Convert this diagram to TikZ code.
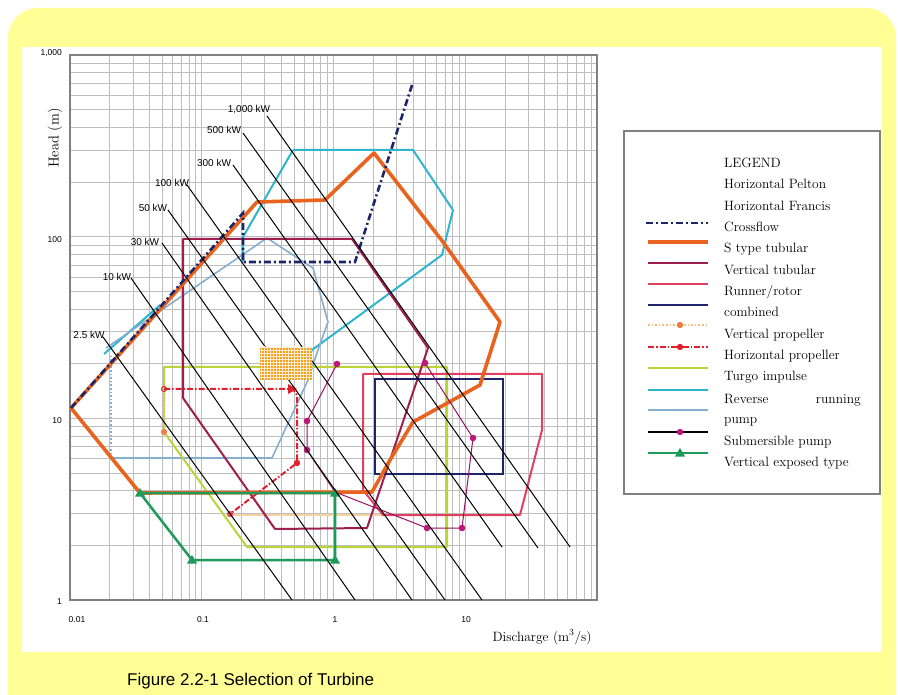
\documentclass[tikz,border=0pt]{standalone}
\usepackage{fontspec}
\newfontfamily\arialf{Liberation Sans}
\usetikzlibrary{patterns}
\definecolor{bgyellow}{RGB}{255,255,150}
\definecolor{gridc}{RGB}{190,190,190}
\definecolor{navyc}{RGB}{30,36,105}
\definecolor{orangec}{RGB}{232,100,30}
\definecolor{crimsonc}{RGB}{158,30,78}
\definecolor{pinkredc}{RGB}{224,64,94}
\definecolor{turgoc}{RGB}{188,212,58}
\definecolor{tealc}{RGB}{46,180,204}
\definecolor{greyblue}{RGB}{134,174,207}
\definecolor{magentac}{RGB}{190,22,122}
\definecolor{greenc}{RGB}{30,154,90}
\definecolor{redc}{RGB}{224,32,46}
\definecolor{vpropc}{RGB}{240,190,120}
\definecolor{boxorange}{RGB}{247,160,30}
\tikzset{
  gridline/.style={gridc, line width=0.6pt},
  kwline/.style={black, line width=1pt},
  kwlabel/.style={inner sep=0pt, font=\arialf\fontsize{10}{11}\selectfont},
  ticklabel/.style={inner sep=0pt, font=\arialf\fontsize{8.5}{10}\selectfont},
  legtext/.style={anchor=base west, inner sep=0pt, font=\fontsize{13.5}{15}\selectfont},
  crossflow/.style={navyc, line width=2.6pt, dash pattern=on 7pt off 3pt on 2pt off 3pt},
  stype/.style={orangec, line width=3.6pt, line join=round},
  vtub/.style={crimsonc, line width=2pt, line join=round},
  runner/.style={pinkredc, line width=2pt, line join=round},
  combined/.style={navyc, line width=2pt},
  vprop/.style={vpropc, line width=1.6pt, dotted},
  hprop/.style={redc, line width=2pt, dash pattern=on 6pt off 2pt on 1.5pt off 2pt},
  turgo/.style={turgoc, line width=2pt, line join=round},
  reverse/.style={tealc, line width=2pt, line join=round},
  pumpline/.style={greyblue, line width=1.6pt, line join=round},
  subm/.style={magentac!80!black, line width=1pt},
  vexp/.style={greenc, line width=2.5pt, line join=round}
}
\newcommand{\mdot}[2]{\fill[#1] (#2) circle (3.2pt);}
\newcommand{\mtri}[2]{\fill[#1] ($(#2)+(0,-5)$) -- ($(#2)+(5,3.5)$) -- ($(#2)+(-5,3.5)$) -- cycle;}
\usetikzlibrary{calc}
\begin{document}
\begin{tikzpicture}[x=1pt,y=-1pt]
\useasboundingbox (0,0) rectangle (898,695);
% background frame
\fill[white] (0,0) rectangle (898,695);
\fill[bgyellow] (8,8) [rounded corners=30pt] rectangle (896,740);
\fill[white] (22,47) rectangle (882,652);
% grid
\foreach \d in {0,...,3}{
  \foreach \n in {1,...,9}{
    \pgfmathsetmacro\xx{70+131.75*(\d+log10(\n))}
    \draw[gridline] (\xx,55) -- (\xx,600);
  }
}
\foreach \d in {0,...,2}{
  \foreach \n in {1,...,9}{
    \pgfmathsetmacro\yy{600-181.67*(\d+log10(\n))}
    \draw[gridline] (70,\yy) -- (597,\yy);
  }
}
\draw[gray, line width=1.5pt] (70,55) rectangle (597,600);
% ---- regions ----
% reverse running pump (teal)
\draw[reverse] (293,150) -- (413,150) -- (453,210) -- (442,255) -- (312,350) -- (300,376);
\draw[reverse] (293,150) -- (243,237) -- (243,262);
\draw[reverse] (104,354) -- (160,305);
% pump (grey blue)
\draw[pumpline] (106,348) -- (267,238) -- (313,268) -- (328,322) -- (318,350) -- (308,380) -- (272,458) -- (111,458);
\draw[pumpline, dotted, line width=2pt] (111,458) -- (111,356);
% turgo impulse
\draw[turgo] (164,367) -- (447,367) -- (447,547) -- (247,547) -- (164,432) -- cycle;
% vertical propeller
\draw[vprop] (164,388) -- (164,432);
\draw[vpropc!70, line width=1.5pt] (227,515) -- (383,515);
\mdot{orangec!80}{164,432}
% runner / rotor
\draw[runner] (363,374) -- (542,374) -- (542,430) -- (520,515) -- (383,515) -- (363,490) -- cycle;
% vertical tubular
\draw[vtub] (183,239) -- (352,239) -- (428,348) -- (367,528) -- (275,529) -- (183,398) -- cycle;
% combined
\draw[combined] (375,379) rectangle (503,474);
% S type tubular
\draw[stype] (71,408) -- (257,202) -- (325,200) -- (374,153) -- (443,242) -- (500,322) -- (480,385) -- (413,422) -- (390,460) -- (372,492) -- (140,493) -- cycle;
% crossflow
\draw[crossflow] (71,408) -- (243,213) -- (243,262) -- (355,262) -- (413,82);
% horizontal propeller
\draw[hprop] (164,389) -- (293,389) -- (297,395) -- (297,463) -- (230,514);
\draw[redc, line width=1pt] (164,389) circle (2.5pt);
\fill[redc] (297,389) -- (288,384) -- (288,394) -- cycle;
\mdot{redc}{297,463}
\mdot{redc!80}{230,514}
% submersible pump
\draw[subm] (337,364) -- (307,421) -- (307,450) -- (335,492) -- (427,528) -- (462,528) -- (473,438) -- (425,363);
\foreach \p in {(337,364),(307,421),(307,450),(427,528),(462,528),(473,438),(425,363)}{
  \fill[magentac] \p circle (3.3pt);
}
% vertical exposed type
\draw[vexp] (140,493) -- (335,493) -- (335,560) -- (192,560) -- cycle;
\mtri{greenc}{140,493}
\mtri{greenc}{335,493}
\mtri{greenc}{335,560}
\mtri{greenc}{192,560}
% ---- kW lines ----
\node[kwlabel] (k1000) at (249,110) {1,000 kW};
\node[kwlabel] (k500) at (224,130) {500 kW};
\node[kwlabel] (k300) at (214,163) {300 kW};
\node[kwlabel] (k100) at (172,183) {100 kW};
\node[kwlabel] (k50) at (153,208) {50 kW};
\node[kwlabel] (k30) at (145,242) {30 kW};
\node[kwlabel] (k10) at (117,277) {10 kW};
\node[kwlabel] (k2) at (89,335) {2.5 kW};
\coordinate (e1000) at (570,547);
\coordinate (e500) at (538,548);
\coordinate (e300) at (502,547);
\coordinate (e100) at (482,600);
\coordinate (e50) at (445,600);
\coordinate (e30) at (412,600);
\coordinate (e10) at (355,600);
\coordinate (e2) at (292,600);
\draw[kwline] (267,116) -- (e1000);
\draw[kwline] (243,133) -- (e500);
\draw[kwline] (233,165) -- (e300);
\draw[kwline] (187,185) -- (e100);
\draw[kwline] (168,210) -- (e50);
\draw[kwline] (162,243) -- (e30);
\draw[kwline] (131,278) -- (e10);
\draw[kwline] (103,337) -- (e2);
% orange hatched box
\fill[boxorange] (260,347) rectangle (312,380);
\fill[pattern=grid, pattern color=white!80!boxorange] (260,347) rectangle (312,380);
% ---- axis labels ----
\node[ticklabel, anchor=east] (y1000) at (62,53) {1,000};
\node[ticklabel, anchor=east] (y100) at (62,240) {100};
\node[ticklabel, anchor=east] (y10) at (62,421) {10};
\node[ticklabel, anchor=east] (y1) at (62,602) {1};
\node[ticklabel] (x001) at (77,620) {0.01};
\node[ticklabel] (x01) at (203,620) {0.1};
\node[ticklabel] (x1) at (335,620) {1};
\node[ticklabel] (x10) at (466,620) {10};
\node[rotate=90, inner sep=0pt, font=\fontsize{14.5}{16}\selectfont] (ylab) at (55,138) {Head (m)};
\node[inner sep=0pt, font=\fontsize{13.5}{15}\selectfont] (xlab) at (542,637) {Discharge (m\textsuperscript{3}/s)};
\node[inner sep=0pt, anchor=west, font=\arialf\fontsize{17}{19}\selectfont] (cap) at (127,681) {Figure 2.2-1 Selection of Turbine};
% ---- legend ----
\draw[gray, line width=1.5pt, fill=white] (624,131) rectangle (880,494);
\node[legtext] (l0) at (724,168) {LEGEND};
\node[legtext] (l1) at (724,189) {Horizontal Pelton};
\node[legtext] (l2) at (724,211) {Horizontal Francis};
\node[legtext] (l3) at (724,232) {Crossflow};
\node[legtext] (l4) at (724,253) {S type tubular};
\node[legtext] (l5) at (724,275) {Vertical tubular};
\node[legtext] (l6) at (724,296) {Runner/rotor};
\node[legtext] (l7) at (724,317) {combined};
\node[legtext] (l8) at (724,339) {Vertical propeller};
\node[legtext] (l9) at (724,360) {Horizontal propeller};
\node[legtext] (l10) at (724,381) {Turgo impulse};
\node[legtext] (l11) at (724,403) {Reverse};
\node[legtext, anchor=base east] (l11b) at (861,403) {running};
\node[legtext] (l12) at (724,424) {pump};
\node[legtext] (l13) at (724,445) {Submersible pump};
\node[legtext] (l14) at (724,466) {Vertical exposed type};
\draw[crossflow, line width=2.4pt] (646,223) -- (708,223);
\draw[stype] (648,242) -- (708,242);
\draw[vtub] (648,263) -- (708,263);
\draw[runner] (648,284) -- (708,284);
\draw[combined] (648,305) -- (708,305);
\draw[vprop] (648,325) -- (708,325);
\mdot{orangec!85}{680,325}
\draw[hprop] (648,347) -- (708,347);
\mdot{redc}{680,347}
\draw[turgo] (648,368) -- (708,368);
\draw[reverse] (648,390) -- (708,390);
\draw[pumpline] (648,410) -- (708,410);
\draw[black, line width=1.2pt] (648,432) -- (708,432);
\mdot{magentac}{680,432}
\draw[vexp] (648,453) -- (708,453);
\mtri{greenc}{680,453}
\end{tikzpicture}
\end{document}
